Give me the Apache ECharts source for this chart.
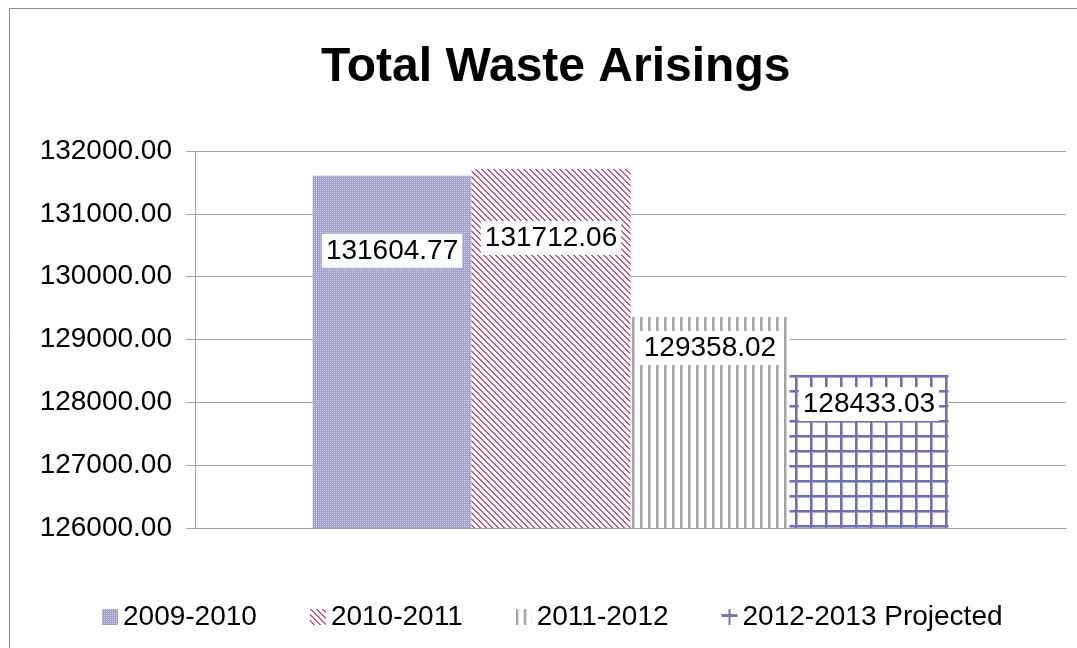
<!DOCTYPE html>
<html>
<head>
<meta charset="utf-8">
<script src="https://cdn.jsdelivr.net/npm/echarts@6/dist/echarts.min.js"></script>
<style>
  html, body { margin: 0; padding: 0; background: #fff; }
  #chart { width: 1077px; height: 648px; }
</style>
</head>
<body>
<div id="chart"></div>
<script>
const categories = [''];
const seriesNames = ['2009-2010', '2010-2011', '2011-2012', '2012-2013 Projected'];
const v2009 = [131604.77];
const v2010 = [131712.06];
const v2011 = [129358.02];
const v2012 = [128433.03];
const yTicks = [126000, 127000, 128000, 129000, 130000, 131000, 132000];

// small canvas tiles used as bar fills
function tile(size, draw) {
    const c = document.createElement('canvas');
    c.width = size;
    c.height = size;
    const ctx = c.getContext('2d');
    ctx.fillStyle = '#fff';
    ctx.fillRect(0, 0, size, size);
    draw(ctx, size);
    return { image: c, repeat: 'repeat' };
}

const checker = tile(2, function(ctx) {
    ctx.fillStyle = '#a0a0cf';
    ctx.fillRect(0, 0, 2, 2);
    ctx.fillStyle = '#cfcfe8';
    ctx.fillRect(0, 0, 1, 1);
});
const diagonal = tile(6, function(ctx, s) {
    ctx.fillStyle = '#c2588a';
    for (let y = 0; y < s; y++) {
        for (let x = 0; x < s; x++) {
            const d = ((x - y) % s + s) % s;
            if (d < 2) ctx.fillRect(x, y, 1, 1);
        }
    }
});
const vertical = tile(8, function(ctx, s) {
    ctx.fillStyle = '#a3a3a3';
    ctx.fillRect(0, 0, 2, s);
    ctx.fillStyle = '#d2d2d2';
    ctx.fillRect(2, 0, 1, s);
});
const grid = tile(15, function(ctx, s) {
    ctx.fillStyle = '#a8a8d0';
    ctx.fillRect(2, 0, 1, s);
    ctx.fillRect(0, 2, s, 1);
    ctx.fillStyle = '#7070ae';
    ctx.fillRect(0, 0, 2, s);
    ctx.fillRect(0, 0, s, 2);
});

const fills = [checker, diagonal, vertical, grid];
const labelDist = [58, 52, 14, 12];
const values = [v2009, v2010, v2011, v2012];

const series = seriesNames.map(function(name, i) {
    return {
        name: name,
        type: 'bar',
        data: values[i],
        barGap: '0%',
        barCategoryGap: '27%',
        itemStyle: { color: fills[i] },
        label: {
            show: true,
            position: 'insideTop',
            distance: labelDist[i],
            formatter: function(p) { return p.value.toFixed(2); },
            backgroundColor: '#fff',
            padding: [3, 4],
            color: '#000',
            fontSize: 28,
            fontFamily: 'Liberation Sans, Arial, sans-serif'
        }
    };
});

const legendIcons = ['rect', 'rect', 'rect', 'path://M0,5h16v3h-16z M7,0h2v16h-2z'];
const legendColors = [checker, diagonal, vertical, '#7474b0'];

const chart = echarts.init(document.getElementById('chart'), null, { renderer: 'canvas' });
chart.setOption({
    animation: false,
    backgroundColor: '#fff',
    title: {
        text: 'Total Waste Arisings',
        left: 316,
        top: 39,
        textStyle: {
            fontSize: 48,
            fontWeight: 'bold',
            color: '#000',
            fontFamily: 'Liberation Sans, Arial, sans-serif'
        }
    },
    graphic: [{
        type: 'rect',
        shape: { x: 9.5, y: 8.5, width: 1200, height: 800 },
        style: { fill: 'none', stroke: '#8c8c8c', lineWidth: 1 },
        silent: true
    }],
    legend: {
        left: 97,
        top: 598,
        itemWidth: 16,
        itemHeight: 16,
        itemGap: 53,
        textStyle: {
            fontSize: 28,
            color: '#000',
            fontFamily: 'Liberation Sans, Arial, sans-serif'
        },
        data: seriesNames.map(function(n, i) {
            return { name: n, icon: legendIcons[i], itemStyle: { color: legendColors[i] } };
        })
    },
    grid: {
        left: 195,
        right: 11,
        top: 151,
        bottom: 120
    },
    xAxis: {
        type: 'category',
        data: categories,
        axisLine: { lineStyle: { color: '#9a9a9a' } },
        axisTick: { show: false },
        axisLabel: { show: false }
    },
    yAxis: {
        type: 'value',
        min: yTicks[0],
        max: yTicks[yTicks.length - 1],
        interval: 1000,
        axisLine: { show: true, lineStyle: { color: '#a6a6a6' } },
        axisTick: { show: true, length: 9, lineStyle: { color: '#a6a6a6' } },
        splitLine: { lineStyle: { color: '#a0a0a0' } },
        axisLabel: {
            margin: 23,
            fontSize: 28,
            color: '#000',
            fontFamily: 'Liberation Sans, Arial, sans-serif',
            formatter: function(v) { return v.toFixed(2); }
        }
    },
    series: series
});
</script>
</body>
</html>
